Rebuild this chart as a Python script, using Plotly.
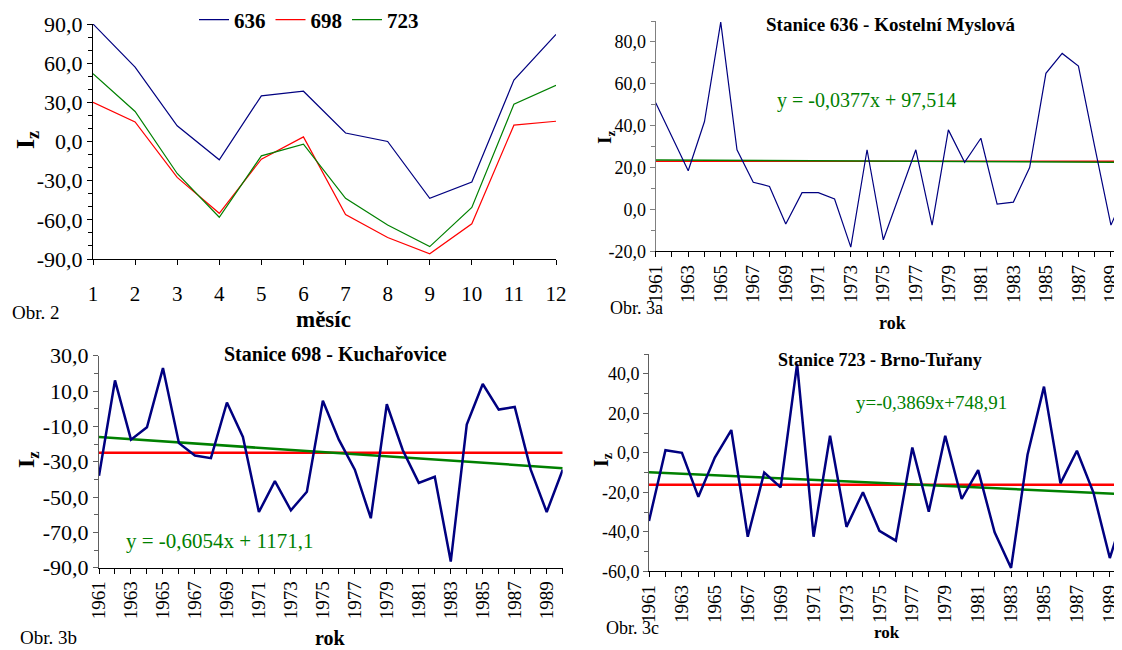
import plotly.graph_objects as go

W, H = 1122, 650
OFF = 8  # default page body margin
FW, FH = W - OFF, H - OFF
SERIF = "Liberation Serif, Times New Roman, serif"

# ---------------- data ----------------
months = [1, 2, 3, 4, 5, 6, 7, 8, 9, 10, 11, 12]
month_636 = [90, 57, 12, -14, 35, 38.5, 6.5, 0, -43.5, -31, 47, 82]
month_698 = [30, 15, -27.5, -55, -13.5, 3.5, -56, -73.5, -86, -63, 12.5, 15.5]
month_723 = [52, 23, -24.5, -58, -11, -2, -43.5, -64, -80.5, -50.5, 28.5, 43]

years = list(range(1961, 1991))
iz_636 = [51, 35, 18.5, 42, 89.5, 28.5, 13, 11, -7, 8, 8, 5, -18, 28.5, -14.5, 7,
          28.5, -7.5, 38, 22.5, 34, 2.5, 3.5, 20, 65, 74.5, 68.5, 30, -7.5, 10]
iz_698 = [-38, 16, -17.5, -10.5, 23, -19.5, -26.5, -28, 3.5, -16, -58.5, -41,
          -57.5, -47, 4.5, -17.5, -34.5, -62, 2.5, -23.5, -42, -38.5, -86.5,
          -9, 14, -0.5, 1, -34.5, -58.5, -34.5]
iz_723 = [-34.5, 1.3, 0, -22.3, -2.4, 11.5, -42.5, -10, -17.5, 45, -42.5, 8.6,
          -37.5, -20, -39.5, -44.5, 2.7, -29.8, 8.6, -23.4, -8.8, -40.3, -58.3,
          -1, 33.5, -15.5, 1.0, -20, -53.3, -27]

# trend line coefficients (slope, intercept) as printed on the charts, and mean levels
trend_636 = (-0.0377, 97.514)
trend_698 = (-0.6054, 1171.1)
trend_723 = (-0.3869, 748.91)
mean_636 = 23.0
mean_698 = -24.9
mean_723 = -16.2

# tick labels
month_ticks = [str(m) for m in months]
year_tickvals = list(range(1961, 1990, 2))
year_ticktext = [str(y) for y in year_tickvals]
tl_yvals = [90, 60, 30, 0, -30, -60, -90]
tl_ytext = ["90,0", "60,0", "30,0", "0,0", "-30,0", "-60,0", "-90,0"]
tr_yvals = [80, 60, 40, 20, 0, -20]
tr_ytext = ["80,0", "60,0", "40,0", "20,0", "0,0", "-20,0"]
bl_yvals = [30, 10, -10, -30, -50, -70, -90]
bl_ytext = ["30,0", "10,0", "-10,0", "-30,0", "-50,0", "-70,0", "-90,0"]
br_yvals = [40, 20, 0, -20, -40, -60]
br_ytext = ["40,0", "20,0", "0,0", "-20,0", "-40,0", "-60,0"]

NAVY, RED, GREEN = "#000080", "#FF0000", "#008000"


def dx(a, b):
    return [(a - OFF) / FW, min((b - OFF) / FW, 1)]


def dy(top, bottom):
    return [1 - (bottom - OFF) / FH, 1 - (top - OFF) / FH]


fig = go.Figure()

# ---- Obr. 2 ----
for name, vals, col in [("636", month_636, NAVY), ("698", month_698, RED), ("723", month_723, GREEN)]:
    fig.add_trace(go.Scatter(x=months, y=vals, mode="lines", name=name,
                             line=dict(color=col, width=1.2), xaxis="x", yaxis="y"))


def station(xa, ya, data, trend, mean, wblue, wline):
    x0, x1 = years[0], years[-1]
    fig.add_trace(go.Scatter(x=[x0, x1], y=[mean, mean], mode="lines", showlegend=False,
                             line=dict(color=RED, width=wline), xaxis=xa, yaxis=ya))
    fig.add_trace(go.Scatter(x=[x0, x1], y=[trend[0] * x0 + trend[1], trend[0] * x1 + trend[1]],
                             mode="lines", showlegend=False,
                             line=dict(color=GREEN, width=wline), xaxis=xa, yaxis=ya))
    fig.add_trace(go.Scatter(x=years, y=data, mode="lines", showlegend=False,
                             line=dict(color=NAVY, width=wblue), xaxis=xa, yaxis=ya))


station("x2", "y2", iz_636, trend_636, mean_636, 1.2, 1.5)
station("x3", "y3", iz_698, trend_698, mean_698, 2.5, 2.5)
station("x4", "y4", iz_723, trend_723, mean_723, 2.5, 2.5)

common_x = dict(showgrid=False, zeroline=False, showline=True, linecolor="black", linewidth=1,
                ticks="outside", tickcolor="black", ticklen=5, automargin=False)
common_y = dict(showgrid=False, zeroline=False, showline=True, linewidth=1,
                ticks="outside", ticklen=5, tickmode="array", automargin=False)

year_x = dict(common_x, tickmode="array", tickvals=year_tickvals, ticktext=year_ticktext,
              tickangle=-90, tickfont=dict(family=SERIF, size=19, color="black"),
              minor=dict(tickmode="linear", tick0=1961, dtick=1, ticks="outside",
                         ticklen=5, tickcolor="black"))

fig.update_layout(
    template="none",
    width=FW, height=FH, margin=dict(l=0, r=0, t=0, b=0, autoexpand=False),
    paper_bgcolor="white", plot_bgcolor="white",
    font=dict(family=SERIF, color="black"),
    showlegend=True,
    legend=dict(orientation="h", x=186 / FW, y=1 - 12 / FH, xanchor="left",
                yanchor="middle",
                font=dict(family=SERIF, size=21, color="black", weight="bold"),
                bgcolor="rgba(0,0,0,0)"),
    xaxis=dict(common_x, domain=dx(93, 556), range=[1, 12], anchor="y",
               tickmode="array", tickvals=months, ticktext=month_ticks,
               tickfont=dict(family=SERIF, size=21, color="black"), ticklabelstandoff=11),
    yaxis=dict(common_y, domain=dy(24, 259), range=[-90, 90], anchor="x",
               linecolor="black", tickcolor="black",
               tickvals=tl_yvals, ticktext=tl_ytext,
               tickfont=dict(family=SERIF, size=22, color="black"),
               minor=dict(tickmode="linear", tick0=0, dtick=10, ticks="outside", ticklen=4,
                          tickcolor="black")),
    xaxis2=dict(year_x, domain=dx(655.7, 1122), range=[1961, 1989.68], anchor="y2"),
    yaxis2=dict(common_y, domain=dy(21, 251.3), range=[-20, 90], anchor="x2",
                linecolor="#808080", tickcolor="#808080",
                tickvals=tr_yvals, ticktext=tr_ytext,
                tickfont=dict(family=SERIF, size=18, color="black"),
                minor=dict(tickmode="linear", tick0=0, dtick=10, ticks="outside", ticklen=4,
                           tickcolor="#808080")),
    xaxis3=dict(year_x, domain=dx(99, 562.7), range=[1961, 1990], anchor="y3"),
    yaxis3=dict(common_y, domain=dy(355.7, 567.7), range=[-90, 30], anchor="x3",
                linecolor="#606060", tickcolor="#606060",
                tickvals=bl_yvals, ticktext=bl_ytext,
                tickfont=dict(family=SERIF, size=22, color="black"),
                minor=dict(tickmode="linear", tick0=0, dtick=10, ticks="outside", ticklen=4,
                           tickcolor="#606060")),
    xaxis4=dict(year_x, domain=dx(649, 1122), range=[1961, 1989.74], anchor="y4"),
    yaxis4=dict(common_y, domain=dy(354, 571.3), range=[-60, 50], anchor="x4",
                linecolor="#606060", tickcolor="#606060",
                tickvals=br_yvals, ticktext=br_ytext,
                tickfont=dict(family=SERIF, size=18, color="black"),
                minor=dict(tickmode="linear", tick0=0, dtick=10, ticks="outside", ticklen=4,
                           tickcolor="#606060")),
)


def note(text, px, py, size, bold=False, color="black", angle=0):
    fig.add_annotation(text=text, x=(px - OFF) / FW, y=1 - (py - OFF) / FH, xref="paper",
                       yref="paper", xanchor="center", yanchor="middle", showarrow=False,
                       textangle=angle,
                       font=dict(family=SERIF, size=size, color=color,
                                 weight="bold" if bold else "normal"))


# Obr. 2 texts
note("I<sub>z</sub>", 27, 140, 26, bold=True, angle=-90)
note("Obr. 2", 36, 312, 19)
note("měsíc", 323, 319, 23, bold=True)
# Obr. 3a
note("Stanice 636 - Kostelní Myslová", 891, 25, 19, bold=True)
note("y = -0,0377x + 97,514", 866, 100, 20, color=GREEN)
note("I<sub>z</sub>", 606, 138, 19, bold=True, angle=-90)
note("Obr. 3a", 636, 308, 18)
note("rok", 892, 323, 18, bold=True)
# Obr. 3b
note("Stanice 698 - Kuchařovice", 335, 354, 20, bold=True)
note("y = -0,6054x + 1171,1", 219, 541, 21, color=GREEN)
note("I<sub>z</sub>", 28, 460, 24, bold=True, angle=-90)
note("Obr. 3b", 48, 637, 19)
note("rok", 330, 638, 20, bold=True)
# Obr. 3c
note("Stanice 723 - Brno-Tuřany", 880, 360, 18, bold=True)
note("y=-0,3869x+748,91", 931, 402, 19, color=GREEN)
note("I<sub>z</sub>", 602, 460, 20, bold=True, angle=-90)
note("Obr. 3c", 632, 628, 18)
note("rok", 887, 632, 17, bold=True)

fig.write_html("out.html")
